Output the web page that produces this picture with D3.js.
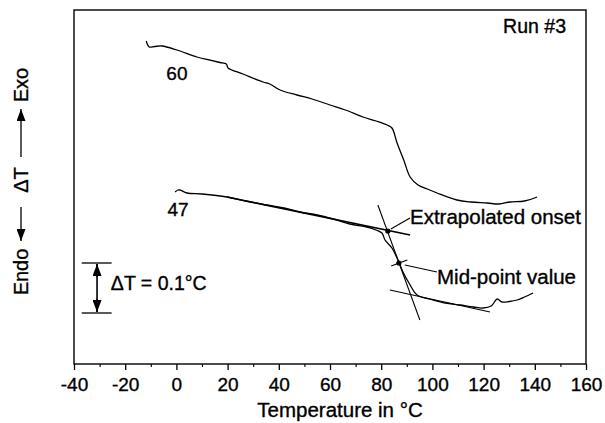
<!DOCTYPE html>
<html>
<head>
<meta charset="utf-8">
<script src="https://cdn.jsdelivr.net/npm/d3@7"></script>
<style>
  body { margin: 0; background: #fff; }
  text { font-family: "Liberation Sans", Arial, Helvetica, sans-serif; fill: #000; stroke: #000; stroke-width: 0.35; }
</style>
</head>
<body>
<svg id="dsc" width="605" height="423"></svg>
<script>
// temperature (°C) and relative ΔT (°C)
var temp60 = [-11.8, -10.6, -8.5, -5.6, 0.2, 8.0, 13.0, 17.0, 19.5, 20.2, 26.0, 33.8, 36.5, 40.5, 47.1, 53.0, 60.0, 66.0, 72.9, 78.0, 82.3, 84.2, 86.2, 88.8, 91.3, 94.4, 98.0, 101.8, 109.6, 115.0, 121.4, 126.0, 130.3, 136.0, 140.9];
var dT60   = [0.646, 0.634, 0.635, 0.636, 0.628, 0.614, 0.608, 0.603, 0.600, 0.592, 0.580, 0.564, 0.560, 0.548, 0.538, 0.530, 0.518, 0.508, 0.494, 0.486, 0.478, 0.472, 0.442, 0.408, 0.374, 0.358, 0.350, 0.342, 0.328, 0.324, 0.322, 0.320, 0.324, 0.326, 0.334];

var temp47 = [-0.5, 0.6, 1.4, 4.1, 10.0, 19.8, 27.0, 35.4, 42.0, 48.3, 55.0, 61.2, 67.8, 74.4, 78.0, 80.3, 81.5, 84.2, 86.2, 88.5, 91.3, 94.0, 100.3, 105.0, 110.8, 116.0, 119.8, 123.0, 125.3, 127.2, 130.0, 133.1, 136.0, 139.3];
var dT47   = [0.344, 0.348, 0.348, 0.342, 0.340, 0.334, 0.326, 0.318, 0.312, 0.304, 0.298, 0.290, 0.280, 0.274, 0.268, 0.262, 0.248, 0.232, 0.212, 0.184, 0.158, 0.138, 0.128, 0.122, 0.118, 0.114, 0.112, 0.116, 0.130, 0.124, 0.125, 0.128, 0.134, 0.142];

// construction lines [temp, dT] pairs
var tangentUpper = [[19.8, 0.334], [91.3, 0.258]];
var tangentSteep = [[78.7, 0.318], [95.1, 0.088]];
var tangentLower = [[83.4, 0.148], [122.5, 0.104]];
var tangentMid   = [[83.9, 0.196], [90.2, 0.208]];
var onsetPoint = [82.6, 0.266];
var midPoint   = [86.9, 0.202];

var xMajor = [-40, -20, 0, 20, 40, 60, 80, 100, 120, 140, 160];
var xMinor = [-30, -10, 10, 30, 50, 70, 90, 110, 130, 150];

var svg = d3.select("#dsc");
var x = d3.scaleLinear().domain([-40, 160]).range([74, 586]);
var y = d3.scaleLinear().domain([0, 0.708]).range([364, 10]);

var line = d3.line()
    .x(function(d) { return x(d[0]) })
    .y(function(d) { return y(d[1]) })
    .curve(d3.curveCatmullRom.alpha(0.5));

// frame
svg.append('rect')
    .attr('x', x(-40)).attr('y', y(0.708))
    .attr('width', x(160) - x(-40)).attr('height', y(0) - y(0.708))
    .attr('fill', 'none').attr('stroke', '#000').attr('stroke-width', 1.4);

// x axis
var gx = svg.append('g').attr('transform', 'translate(0,' + y(0) + ')');
gx.call(d3.axisBottom(x).tickValues(xMajor).tickSize(6).tickPadding(8).tickFormat(function(d) { return String(d) }));
gx.select('.domain').remove();
gx.selectAll('line').attr('stroke', '#000').attr('stroke-width', 1.3);
gx.selectAll('text').attr('font-size', 19).attr('fill', '#000')
    .style('font-family', '"Liberation Sans", Arial, sans-serif');
var gm = svg.append('g').attr('transform', 'translate(0,' + y(0) + ')');
gm.call(d3.axisBottom(x).tickValues(xMinor).tickSize(3).tickFormat(''));
gm.select('.domain').remove();
gm.selectAll('line').attr('stroke', '#000').attr('stroke-width', 1.1);

svg.append('text')
    .attr('x', (x(-40) + x(160)) / 2 + 10).attr('y', 417)
    .attr('text-anchor', 'middle').attr('font-size', 20.5)
    .text('Temperature in °C');

// y label: Endo <- ΔT -> Exo
var defs = svg.append('defs');
defs.append('marker').attr('id', 'head')
    .attr('viewBox', '0 0 10 10').attr('refX', 10).attr('refY', 5)
    .attr('markerWidth', 7).attr('markerHeight', 7).attr('orient', 'auto')
    .attr('markerUnits', 'userSpaceOnUse')
    .append('path').attr('d', 'M0,1.5 L10,5 L0,8.5 Z').attr('fill', '#000');
defs.append('marker').attr('id', 'headStart')
    .attr('viewBox', '0 0 10 10').attr('refX', 0).attr('refY', 5)
    .attr('markerWidth', 7).attr('markerHeight', 7).attr('orient', 'auto')
    .attr('markerUnits', 'userSpaceOnUse')
    .append('path').attr('d', 'M10,1.5 L0,5 L10,8.5 Z').attr('fill', '#000');
defs.append('marker').attr('id', 'bigHead')
    .attr('viewBox', '0 0 10 10').attr('refX', 10).attr('refY', 5)
    .attr('markerWidth', 12).attr('markerHeight', 9).attr('orient', 'auto')
    .attr('markerUnits', 'userSpaceOnUse').attr('preserveAspectRatio', 'none')
    .append('path').attr('d', 'M0,0 L10,5 L0,10 Z').attr('fill', '#000');

var gy = svg.append('g').attr('transform', 'translate(28,180) rotate(-90)');
gy.append('text').attr('x', -92).attr('y', 0).attr('text-anchor', 'middle').attr('font-size', 20).text('Endo');
gy.append('line').attr('x1', -27).attr('x2', -61).attr('y1', -7).attr('y2', -7)
    .attr('stroke', '#000').attr('stroke-width', 1.3).attr('marker-end', 'url(#bigHead)');
gy.append('text').attr('x', 0).attr('y', 0).attr('text-anchor', 'middle').attr('font-size', 20).text('ΔT');
gy.append('line').attr('x1', 23).attr('x2', 71).attr('y1', -7).attr('y2', -7)
    .attr('stroke', '#000').attr('stroke-width', 1.3).attr('marker-end', 'url(#bigHead)');
gy.append('text').attr('x', 95).attr('y', 0).attr('text-anchor', 'middle').attr('font-size', 20).text('Exo');

// ΔT scale bar (0.1 °C)
var barTop = 0.202, barBottom = 0.102;
[barTop, barBottom].forEach(function(v) {
    svg.append('line').attr('x1', x(-37)).attr('x2', x(-25.3))
        .attr('y1', y(v)).attr('y2', y(v))
        .attr('stroke', '#000').attr('stroke-width', 1.3);
});
svg.append('line').attr('x1', x(-31)).attr('x2', x(-31))
    .attr('y1', y(barTop) + 1).attr('y2', y(barBottom) - 1)
    .attr('stroke', '#000').attr('stroke-width', 1.6);
svg.append('line').attr('x1', x(-31)).attr('x2', x(-31))
    .attr('y1', y(barTop) + 14).attr('y2', y(barTop) + 1)
    .attr('stroke', '#000').attr('stroke-width', 1.6).attr('marker-end', 'url(#bigHead)');
svg.append('line').attr('x1', x(-31)).attr('x2', x(-31))
    .attr('y1', y(barBottom) - 14).attr('y2', y(barBottom) - 1)
    .attr('stroke', '#000').attr('stroke-width', 1.6).attr('marker-end', 'url(#bigHead)');
svg.append('text').attr('x', x(-25.6)).attr('y', 290).attr('font-size', 19.5).text('ΔT = 0.1°C');

// traces
svg.append('path').datum(d3.zip(temp60, dT60)).attr('d', line)
    .attr('fill', 'none').attr('stroke', '#000').attr('stroke-width', 1.3);
svg.append('path').datum(d3.zip(temp47, dT47)).attr('d', line)
    .attr('fill', 'none').attr('stroke', '#000').attr('stroke-width', 1.3);

// construction lines
[tangentUpper, tangentSteep, tangentLower, tangentMid].forEach(function(t, i) {
    svg.append('line')
        .attr('x1', x(t[0][0])).attr('y1', y(t[0][1]))
        .attr('x2', x(t[1][0])).attr('y2', y(t[1][1]))
        .attr('stroke', '#000').attr('stroke-width', i == 0 ? 1.6 : 1.1);
});
[onsetPoint, midPoint].forEach(function(p) {
    svg.append('circle').attr('cx', x(p[0])).attr('cy', y(p[1])).attr('r', 2.6).attr('fill', '#000');
});

// leaders and annotations
svg.append('line').attr('x1', x(onsetPoint[0]) + 3).attr('y1', y(onsetPoint[1]) - 2)
    .attr('x2', 410).attr('y2', 218).attr('stroke', '#000').attr('stroke-width', 1.1);
svg.append('text').attr('x', 410).attr('y', 224).attr('font-size', 20.5).text('Extrapolated onset');
svg.append('line').attr('x1', x(midPoint[0]) + 6).attr('y1', y(midPoint[1]) + 2)
    .attr('x2', 437).attr('y2', 272).attr('stroke', '#000').attr('stroke-width', 1.1);
svg.append('text').attr('x', 437).attr('y', 284).attr('font-size', 20.5).text('Mid-point value');

svg.append('text').attr('x', x(temp60[4])).attr('y', 80).attr('text-anchor', 'middle').attr('font-size', 19).text('60');
svg.append('text').attr('x', x(temp47[0]) + 3).attr('y', 216).attr('text-anchor', 'middle').attr('font-size', 19).text('47');
svg.append('text').attr('x', 566).attr('y', 33).attr('text-anchor', 'end').attr('font-size', 19.5).text('Run #3');
</script>
</body>
</html>
